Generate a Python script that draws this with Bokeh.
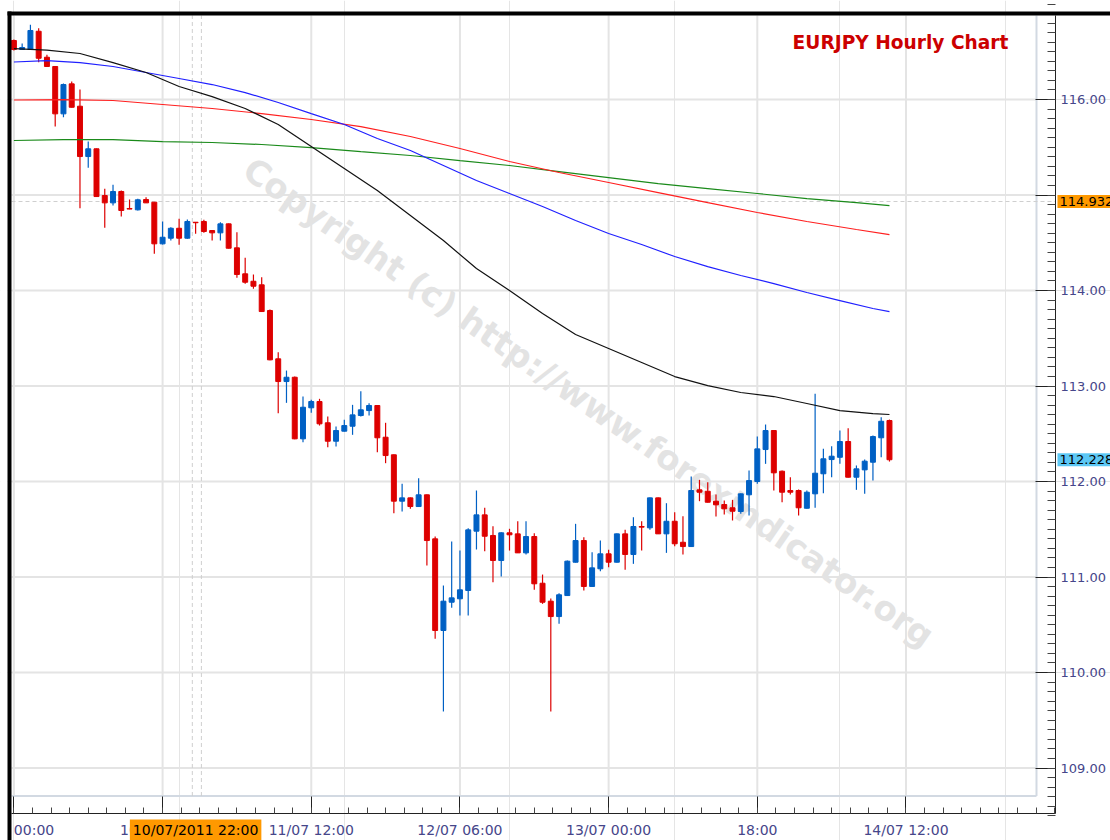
from bokeh.plotting import figure
from bokeh.models import Range1d, LinearAxis, FixedTicker, Label, NumeralTickFormatter, BoxAnnotation
from bokeh.core.properties import value
from bokeh.embed import file_html
from bokeh.resources import INLINE

# ---------------- data (hour index since 10/07 00:00) ----------------
hours = list(range(107))
opens = [116.618,116.524,116.524,116.715,116.443,116.346,115.850,116.164,115.930,115.403,
         115.484,114.995,114.918,115.037,114.859,114.845,114.953,114.925,114.489,114.548,
         114.652,114.548,114.715,114.723,114.628,114.604,114.698,114.447,114.175,114.097,
         114.060,113.791,113.285,113.047,113.092,112.447,112.772,112.838,112.615,112.422,
         112.527,112.579,112.691,112.743,112.796,112.464,112.280,111.794,111.829,111.738,
         111.861,111.400,110.440,110.736,110.772,110.859,111.480,111.651,111.435,111.173,
         111.463,111.452,111.253,111.424,110.935,110.747,110.586,110.806,111.155,111.382,
         110.901,111.086,111.243,111.155,111.452,111.236,111.529,111.515,111.829,111.452,
         111.584,111.364,111.319,111.913,111.898,111.794,111.759,111.725,111.686,111.861,
         112.000,112.335,112.534,112.108,111.906,111.906,111.720,111.871,112.081,112.230,
         112.254,112.419,112.045,112.122,112.202,112.458,112.639]
closes = [116.524,116.545,116.723,116.432,116.346,115.850,116.157,115.919,115.403,115.484,
          114.984,114.918,115.037,114.838,114.853,114.950,114.918,114.489,114.558,114.652,
          114.548,114.723,114.710,114.618,114.604,114.698,114.443,114.168,114.087,114.045,
          113.780,113.274,113.047,113.092,112.447,112.778,112.838,112.604,112.422,112.534,
          112.586,112.698,112.751,112.796,112.458,112.272,111.794,111.829,111.738,111.861,
          111.382,110.440,110.747,110.782,110.866,111.494,111.651,111.427,111.173,111.463,
          111.442,111.253,111.424,110.929,110.736,110.586,110.814,111.166,111.382,110.901,
          111.096,111.243,111.155,111.452,111.236,111.529,111.522,111.829,111.452,111.584,
          111.348,111.319,111.906,111.888,111.783,111.756,111.714,111.689,111.871,112.010,
          112.342,112.534,112.091,111.888,111.888,111.725,111.888,112.087,112.238,112.265,
          112.419,112.045,112.133,112.213,112.471,112.631,112.228]
highs = [116.628,116.586,116.782,116.747,116.468,116.346,116.168,116.188,116.105,115.560,
         115.487,115.065,115.107,115.047,114.953,114.960,114.977,114.925,114.723,114.663,
         114.751,114.743,114.717,114.740,114.634,114.715,114.702,114.610,114.342,114.168,
         114.139,113.801,113.354,113.162,113.099,112.890,112.855,112.866,112.681,112.576,
         112.646,112.803,112.946,112.820,112.801,112.615,112.283,111.976,111.832,112.035,
         111.864,111.424,110.911,111.372,111.277,111.511,111.906,111.725,111.532,111.469,
         111.505,111.584,111.584,111.459,111.026,110.775,110.830,111.173,111.557,111.417,
         111.260,111.382,111.285,111.455,111.494,111.626,111.584,111.832,111.832,111.773,
         111.679,111.637,112.052,112.018,111.993,111.864,111.801,111.808,111.874,112.115,
         112.471,112.597,112.534,112.115,112.045,111.916,111.906,112.918,112.342,112.370,
         112.534,112.558,112.168,112.230,112.482,112.673,112.649]
lows = [116.513,116.518,116.518,116.391,116.340,115.717,115.815,115.916,114.862,115.285,
        114.979,114.657,114.890,114.775,114.850,114.838,114.916,114.384,114.482,114.524,
        114.479,114.541,114.594,114.604,114.524,114.524,114.440,114.133,114.070,114.018,
        113.775,113.269,112.715,112.824,112.442,112.412,112.719,112.586,112.359,112.366,
        112.524,112.489,112.681,112.691,112.307,112.192,111.668,111.686,111.714,111.733,
        111.120,110.353,109.592,110.677,110.597,110.597,111.288,111.270,110.946,111.005,
        111.277,111.251,111.236,110.866,110.719,109.592,110.510,110.801,111.152,110.859,
        110.895,111.061,111.103,111.152,111.075,111.138,111.277,111.494,111.450,111.253,
        111.323,111.236,111.314,111.794,111.780,111.634,111.654,111.592,111.662,111.644,
        111.976,112.185,111.906,111.783,111.864,111.644,111.717,111.725,111.877,112.045,
        112.185,112.042,111.913,111.871,112.010,112.254,112.209]

ma_fast_hours = [0,4,8,12,16,20,24,28,32,36,40,44,48,52,56,60,64,68,72,76,80,84,88,92,96,100,104,106]
ma_black = [116.533,116.518,116.482,116.387,116.283,116.136,116.031,115.906,115.738,115.508,
            115.277,115.047,114.785,114.524,114.230,114.000,113.759,113.539,113.393,113.246,
            113.099,113.005,112.932,112.890,112.817,112.743,112.712,112.702]
ma_blue = [116.393,116.408,116.387,116.346,116.283,116.220,116.157,116.073,115.969,115.853,
           115.738,115.592,115.466,115.309,115.152,115.016,114.880,114.733,114.597,114.482,
           114.356,114.251,114.157,114.073,113.979,113.895,113.812,113.780]
ma_slow_hours = [0,6,12,18,24,30,36,42,48,54,60,66,72,78,84,90,96,102,106]
ma_red = [115.995,116.000,115.990,115.948,115.906,115.853,115.791,115.717,115.613,115.487,
          115.351,115.236,115.131,115.026,114.921,114.817,114.723,114.639,114.586]
ma_green = [115.571,115.581,115.581,115.560,115.550,115.529,115.497,115.455,115.414,115.361,
            115.309,115.246,115.183,115.120,115.068,115.016,114.963,114.921,114.890]

x_tick_hours = [0, 18, 36, 54, 72, 90, 108]
# the first label is clipped by the chart frame in the reference: only "00:00" is visible
x_tick_labels = ["\u00a0\u00a0\u00a000:00", "10/07 18:00", "11/07 12:00", "12/07 06:00",
                 "13/07 00:00", "18:00", "14/07 12:00"]
y_ticks = [109, 110, 111, 112, 113, 114, 115, 116]

title_text = "EURJPY Hourly Chart"
watermark = "Copyright (c) http://www.forexindicator.org"
cursor_price = 114.932
cursor_time_label = "10/07/2011 22:00"
cursor_hour = 22
last_price = closes[-1]

# ---------------- layout constants (data units) ----------------
X0, X1 = -1.622, 132.76        # whole canvas
Y0, Y1 = 108.241, 117.037
PL, PR = -0.29, 126.10          # plot box left edge / right axis line
PB, PT = 108.524, 116.880       # bottom axis line / plot top
BORDER_L = -0.775               # outer left edge of black frame
BORDER_T = 116.921              # outer top edge of black frame
INNER_R = 123.8
INNER_B = 108.707

AX_COL = "#46468a"
UP = "#0060c4"
DN = "#dd0000"
FONT = "DejaVu Sans"

p = figure(width=1110, height=840, x_range=Range1d(X0, X1), y_range=Range1d(Y0, Y1),
           output_backend="svg", toolbar_location=None,
           x_axis_location=None, y_axis_location=None,
           min_border_left=0, min_border_top=0, min_border_right=0, min_border_bottom=0)
p.outline_line_color = None
p.background_fill_color = "white"
p.border_fill_color = "white"

# axes (fixed inside the frame)
xax = LinearAxis(ticker=FixedTicker(ticks=x_tick_hours,
                                    minor_ticks=[k * 2.25 for k in range(57)]),
                 major_label_overrides={h: t for h, t in zip(x_tick_hours, x_tick_labels)},
                 fixed_location=PB, bounds=(PL, PR))
xax.major_tick_in = 17
xax.major_tick_out = 0
xax.minor_tick_in = 6
xax.minor_tick_out = 0
xax.axis_line_color = "#222222"
xax.major_tick_line_color = "#222222"
xax.minor_tick_line_color = "#444444"
xax.major_label_text_font = FONT
xax.major_label_text_font_size = "14px"
xax.major_label_text_color = AX_COL
xax.major_label_standoff = 9
p.add_layout(xax, "below")

yax = LinearAxis(ticker=FixedTicker(ticks=y_ticks,
                                    minor_ticks=[108.5 + k * 0.1 for k in range(86)]),
                 formatter=NumeralTickFormatter(format="0.00"),
                 major_label_overrides={115: ""},
                 fixed_location=PR, bounds=(PB, PT))
yax.major_tick_in = 20
yax.major_tick_out = 0
yax.minor_tick_in = 8
yax.minor_tick_out = 0
yax.axis_line_color = "#222222"
yax.major_tick_line_color = "#222222"
yax.minor_tick_line_color = "#444444"
yax.major_label_text_font = FONT
yax.major_label_text_font_size = "13px"
yax.major_label_text_color = AX_COL
yax.major_label_standoff = 5
p.add_layout(yax, "right")

# grid lines (stop at the inner frame)
p.segment(x0=[PL] * len(y_ticks), x1=[INNER_R] * len(y_ticks), y0=y_ticks, y1=y_ticks,
          line_color="#e4e4e4", line_width=2)
p.segment(x0=x_tick_hours, x1=x_tick_hours, y0=[INNER_B] * len(x_tick_hours),
          y1=[PT] * len(x_tick_hours), line_color="#e4e4e4", line_width=2)
# inner frame
p.segment(x0=[INNER_R, PL], x1=[INNER_R, INNER_R], y0=[INNER_B, INNER_B], y1=[PT, INNER_B],
          line_color="#d2d9e2", line_width=2)

# crosshair
p.segment(x0=[cursor_hour - 0.4, cursor_hour + 0.7], x1=[cursor_hour - 0.4, cursor_hour + 0.7],
          y0=[INNER_B, INNER_B], y1=[PT, PT], line_color="#cfcfcf", line_dash="4 3", line_width=1)
p.segment(x0=[PL], x1=[PR], y0=[cursor_price], y1=[cursor_price],
          line_color="#cfcfcf", line_dash="4 3", line_width=1)

# watermark
p.text(x=[69.6], y=[112.83], text=[watermark], angle=-0.606,
       text_font=value(FONT), text_font_style="bold", text_font_size="34px",
       text_color="#e3e3e3", text_align="center", text_baseline="middle")

# candles
up_i = [i for i in hours if closes[i] >= opens[i]]
dn_i = [i for i in hours if closes[i] < opens[i]]
for idx, col in ((up_i, UP), (dn_i, DN)):
    xs = [hours[i] for i in idx]
    p.segment(x0=xs, x1=xs, y0=[lows[i] for i in idx], y1=[highs[i] for i in idx],
              line_color=col, line_width=1.2)
    p.vbar(x=xs, width=0.6, top=[max(opens[i], closes[i]) for i in idx],
           bottom=[min(opens[i], closes[i]) for i in idx],
           fill_color=col, line_color=col, line_width=1)

# moving averages
p.line(ma_slow_hours, ma_green, line_color="#1a8a1a", line_width=1.2)
p.line(ma_slow_hours, ma_red, line_color="#ff2020", line_width=1.2)
p.line(ma_fast_hours, ma_blue, line_color="#2020ff", line_width=1.2)
p.line(ma_fast_hours, ma_black, line_color="#111111", line_width=1.2)

# outer black frame (left and top), white margin left of it
p.add_layout(BoxAnnotation(left=X0, right=BORDER_L, bottom=Y0, top=Y1,
                           fill_color="white", fill_alpha=1, line_alpha=0, level="overlay"))
p.add_layout(BoxAnnotation(left=BORDER_L, right=PL, bottom=Y0, top=BORDER_T,
                           fill_color="black", fill_alpha=1, line_alpha=0, level="overlay"))
p.add_layout(BoxAnnotation(left=BORDER_L, right=X1, bottom=PT, top=BORDER_T,
                           fill_color="black", fill_alpha=1, line_alpha=0, level="overlay"))

# title
p.add_layout(Label(x=120.4, y=116.597, text=title_text, text_align="right",
                   text_baseline="middle", text_font=FONT, text_font_style="bold",
                   text_font_size="18.6px", text_color="#cc0000"))

# price / time markers
p.add_layout(Label(x=126.34, y=cursor_price, text="%.3f" % cursor_price, text_align="left",
                   text_baseline="middle", text_font=FONT, text_font_size="13px",
                   text_color="black", background_fill_color="#ff9900", padding=2,
                   level="overlay"))
p.add_layout(Label(x=126.34, y=last_price, text="%.3f" % last_price, text_align="left",
                   text_baseline="middle", text_font=FONT, text_font_size="13px",
                   text_color="black", background_fill_color="#5cc8f5", padding=2,
                   level="overlay"))
p.add_layout(Label(x=cursor_hour, y=108.346, text=cursor_time_label, text_align="center",
                   text_baseline="middle", text_font=FONT, text_font_size="14px",
                   text_color="black", background_fill_color="#ff9900", padding=3,
                   level="overlay"))

open("out.html", "w").write(file_html(p, INLINE))
